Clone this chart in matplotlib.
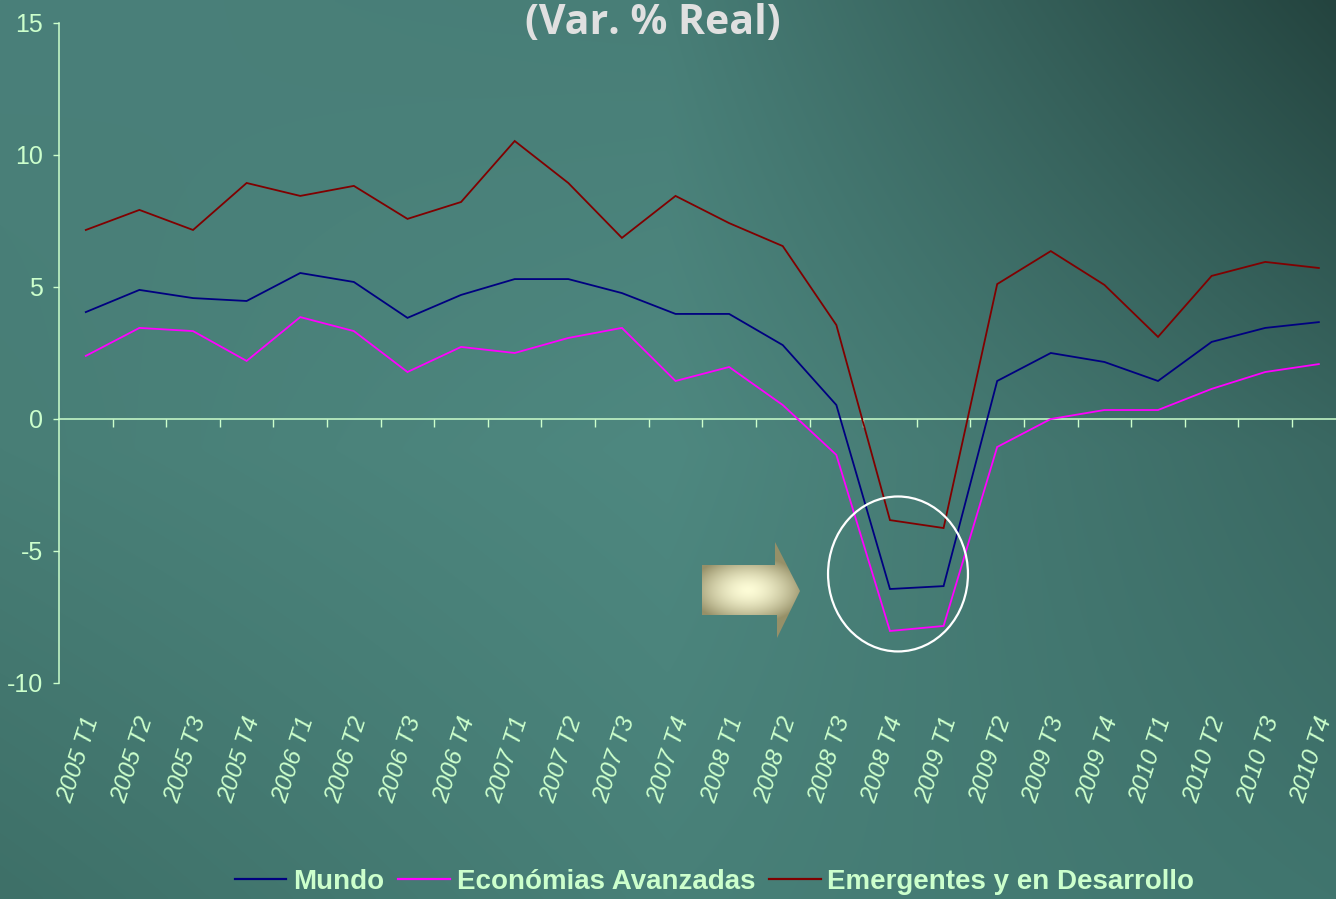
import numpy as np
import matplotlib
matplotlib.use("Agg")
import matplotlib.pyplot as plt
from matplotlib.patches import Ellipse, Polygon
from matplotlib.lines import Line2D
import matplotlib.transforms as mtransforms

# ---------------- data ----------------
categories = ["2005 T1", "2005 T2", "2005 T3", "2005 T4",
              "2006 T1", "2006 T2", "2006 T3", "2006 T4",
              "2007 T1", "2007 T2", "2007 T3", "2007 T4",
              "2008 T1", "2008 T2", "2008 T3", "2008 T4",
              "2009 T1", "2009 T2", "2009 T3", "2009 T4",
              "2010 T1", "2010 T2", "2010 T3", "2010 T4"]
mundo = [4.05, 4.89, 4.58, 4.47, 5.53, 5.19, 3.83, 4.70,
         5.30, 5.30, 4.77, 3.98, 3.98, 2.80, 0.53, -6.44,
         -6.33, 1.44, 2.50, 2.16, 1.44, 2.92, 3.45, 3.67]
avanzadas = [2.39, 3.45, 3.33, 2.20, 3.86, 3.33, 1.78, 2.73,
             2.50, 3.07, 3.45, 1.44, 1.97, 0.53, -1.36, -8.03,
             -7.84, -1.06, 0.00, 0.34, 0.34, 1.14, 1.78, 2.08]
emergentes = [7.16, 7.92, 7.16, 8.94, 8.45, 8.83, 7.58, 8.22,
              10.53, 8.94, 6.86, 8.45, 7.42, 6.55, 3.56, -3.83,
              -4.13, 5.11, 6.36, 5.08, 3.11, 5.42, 5.95, 5.72]
series_names = ["Mundo", "Económias Avanzadas", "Emergentes y en Desarrollo"]
y_ticks = [-10, -5, 0, 5, 10, 15]
title = "(Var. % Real)"

# ---------------- style ----------------
W, H = 1336, 899
TXT = "#ccffcc"
SANS = ["Liberation Sans", "DejaVu Sans"]
colors = ["#000080", "#ff00ff", "#800000"]

fig = plt.figure(figsize=(W / 100, H / 100), dpi=100)

# background gradient (3x3 colour grid, bilinear)
grid = np.array([
    [[74, 128, 122], [72, 126, 119], [36, 68, 63]],
    [[72, 126, 118], [78, 136, 128], [58, 104, 98]],
    [[62, 112, 104], [72, 128, 120], [64, 117, 110]],
], dtype=float) / 255.0
ny, nx = 300, 450
yy = np.linspace(0, 2, ny)
xx = np.linspace(0, 2, nx)
i0 = np.clip(np.floor(yy).astype(int), 0, 1)
j0 = np.clip(np.floor(xx).astype(int), 0, 1)
fy = (yy - i0)[:, None, None]
fx = (xx - j0)[None, :, None]
g00 = grid[i0][:, j0]
g01 = grid[i0][:, j0 + 1]
g10 = grid[i0 + 1][:, j0]
g11 = grid[i0 + 1][:, j0 + 1]
bg = (1 - fy) * (1 - fx) * g00 + (1 - fy) * fx * g01 + fy * (1 - fx) * g10 + fy * fx * g11
bg_ax = fig.add_axes([0, 0, 1, 1], zorder=-10)
bg_ax.imshow(bg, extent=[0, 1, 0, 1], aspect="auto", interpolation="bilinear")
bg_ax.set_axis_off()

# main axes
n = len(categories)
x = np.arange(n)
ax = fig.add_axes([59 / W, 1 - 683 / H, (W - 59) / W, (683 - 23) / H])
ax.patch.set_alpha(0)
ax.set_xlim(-0.5, n - 1 + 0.32)
ax.set_ylim(min(y_ticks), max(y_ticks))

for data, c, name in zip([mundo, avanzadas, emergentes], colors, series_names):
    ax.plot(x, data, color=c, lw=1.3, label=name, solid_joinstyle="miter")

for s in ["top", "right", "bottom"]:
    ax.spines[s].set_visible(False)
ax.spines["left"].set_color(TXT)
ax.spines["left"].set_linewidth(1.1)

ax.set_yticks(y_ticks)
ax.set_yticklabels([str(v) for v in y_ticks], family=SANS, fontsize=18, color=TXT)
ax.tick_params(axis="y", direction="out", length=4.5, width=1, color=TXT, pad=7)

ax.set_xticks(x)
ax.set_xticklabels(categories, rotation=72, rotation_mode="anchor", ha="right", va="top",
                   fontsize=17.5, style="italic", family=SANS, color=TXT)
ax.tick_params(axis="x", length=0, pad=22)
shift = mtransforms.ScaledTranslation(-4 / 100, 0, fig.dpi_scale_trans)
for lab in ax.get_xticklabels():
    lab.set_transform(lab.get_transform() + shift)

# zero axis line with ticks between categories
sec = ax.secondary_xaxis(0.4)
sec.set_xticks(x + 0.5)
sec.set_xticklabels([])
sec.tick_params(direction="out", length=5.5, width=1, color=TXT)
for s in sec.spines.values():
    s.set_color(TXT)
    s.set_linewidth(1.1)

# ellipse highlighting the trough
ax.add_patch(Ellipse((15.15, -5.87), 2.61, 5.87, fill=False, ec="white", lw=1.6, zorder=5))

# title (cut at top)
fig.text(653 / W, 1 - 34 / H, title, ha="center", va="baseline", fontsize=29.5,
         fontweight="bold", color="#e0e0e0", family=["Open Sans", "DejaVu Sans"])

# block arrow with gradient
ax_ar = fig.add_axes([700 / W, 1 - 640 / H, 102 / W, 100 / H], zorder=6)
ax_ar.set_xlim(700, 802)
ax_ar.set_ylim(640, 540)
ax_ar.set_axis_off()
ax_ar.patch.set_alpha(0)
gx, gy = np.meshgrid(np.linspace(700, 802, 204), np.linspace(540, 640, 200))
r = np.clip(np.sqrt(((gx - 748) / 58) ** 2 + ((gy - 590) / 34) ** 2), 0, 1)
bright = np.array([253, 252, 215]) / 255
dark = np.array([150, 144, 104]) / 255
img = bright * (1 - r[..., None] ** 1.6) + dark * (r[..., None] ** 1.6)
im = ax_ar.imshow(img, extent=[700, 802, 640, 540], aspect="auto", interpolation="bilinear")
poly = Polygon([(702, 565), (775, 565), (775, 542), (800, 591), (777, 638), (777, 615), (702, 615)],
               closed=True, transform=ax_ar.transData, fc="none", ec="none")
ax_ar.add_patch(poly)
im.set_clip_path(poly)

# legend
handles = [Line2D([], [], color=c, lw=1.6) for c in colors]
leg = fig.legend(handles, series_names, loc="center", bbox_to_anchor=(0.535, 1 - 882 / H),
                 ncol=3, frameon=False, handlelength=1.85, handletextpad=0.25, columnspacing=0.5,
                 prop=dict(family=SANS, weight="bold", size=20))
for t in leg.get_texts():
    t.set_color(TXT)

fig.savefig("out.png", dpi=100)
